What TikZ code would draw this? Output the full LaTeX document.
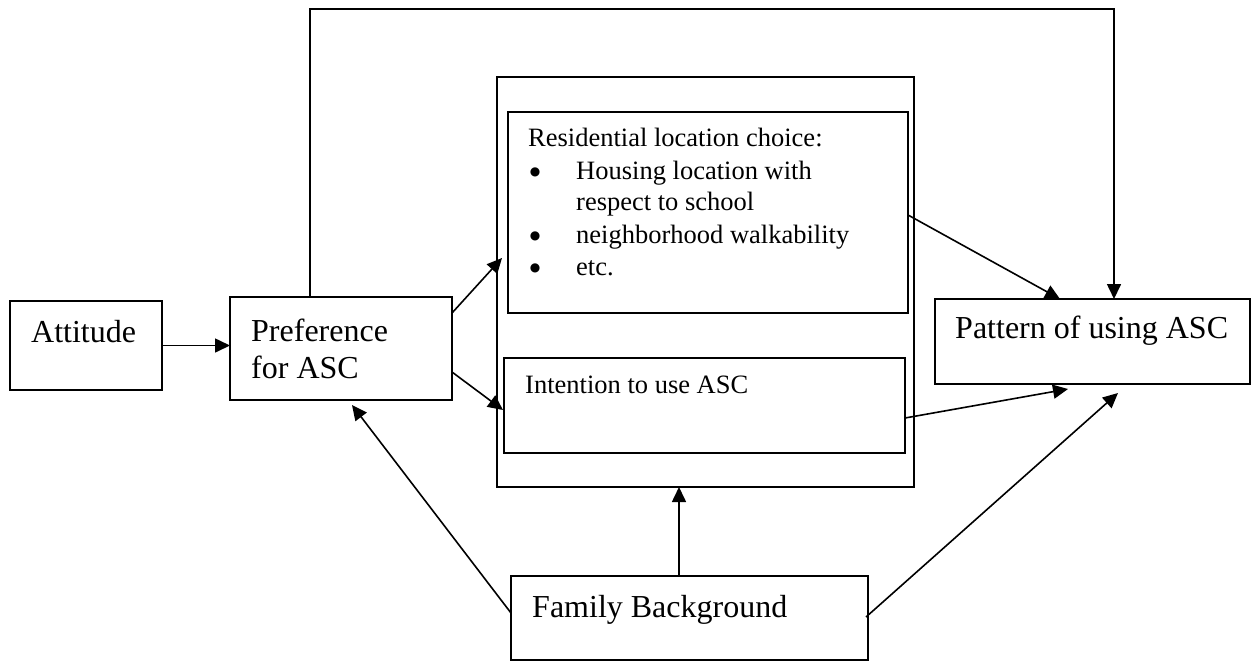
\documentclass[tikz,border=0pt]{standalone}
\usepackage{fontspec}
\setmainfont{Liberation Serif}
\newfontfamily\symfont{DejaVu Sans}
\usetikzlibrary{arrows.meta,calc}
\begin{document}
\begin{tikzpicture}[x=1pt,y=-1pt,
  box/.style={draw,line width=1.6pt,rectangle,inner sep=0pt,outer sep=0pt},
  big/.style={font=\fontsize{32}{37}\selectfont,inner sep=0pt,anchor=base west},
  small/.style={font=\fontsize{26.5}{31}\selectfont,inner sep=0pt,anchor=base west},
  bul/.style={font=\symfont\fontsize{12}{14}\selectfont,inner sep=0pt,anchor=center},
  arr/.style={line width=1.6pt,-{Triangle[length=15pt,width=14pt]}}]
\useasboundingbox (0,0) rectangle (1252,662);
% boxes
\node[box,minimum width=152pt,minimum height=89pt] (att) at (86,345.5) {};
\node[box,minimum width=222pt,minimum height=103pt] (pref) at (341,348.5) {};
\node[box,minimum width=417pt,minimum height=410pt] (cont) at (705.5,282) {};
\node[box,minimum width=400pt,minimum height=201pt] (res) at (708,212.5) {};
\node[box,minimum width=401pt,minimum height=95pt] (int) at (704.5,405.5) {};
\node[box,minimum width=315pt,minimum height=85pt] (pat) at (1092.5,341.5) {};
\node[box,minimum width=357pt,minimum height=84pt] (fam) at (689.5,618) {};
% texts
\node[big] (tatt) at (31,342) {Attitude};
\node[big] (tpref1) at (251,341) {Preference};
\node[big] (tpref2) at (251,378) {for ASC};
\node[big] (tpat) at (955,338) {Pattern of using ASC};
\node[big] (tfam) at (532,617) {Family Background};
\node[small] (tint) at (525,393) {Intention to use ASC};
\node[small] (tres) at (528,146) {Residential location choice:};
\node[bul] (b1) at (535,172.5) {●};
\node[bul] (b2) at (535,236.5) {●};
\node[bul] (b3) at (535,268.5) {●};
\node[small] (l1) at (576,179) {Housing location with};
\node[small] (l2) at (576,210) {respect to school};
\node[small] (l3) at (576,243) {neighborhood walkability};
\node[small] (l4) at (576,275) {etc.};
% connectors
\draw[arr] (att.east) -- (att.east -| pref.west);
\draw[arr] ($(pref.north west)+(80,0)$) -- ++(0,-288) -| ($(pat.north west)+(179,0)$);
\draw[arr] ($(pref.north east)+(0,16)$) -- ($(res.north west)+(-6,146)$);
\draw[arr] ($(pref.north east)+(0,75)$) -- ($(int.north west)+(-1,52)$);
\draw[arr] ($(res.north east)+(0,103)$) -- ($(pat.north west)+(125,0)$);
\draw[arr] ($(int.north east)+(0,60)$) -- ($(pat.south west)+(133,5)$);
\draw[arr] ($(fam.north west)+(168,0)$) -- ($(cont.south west)+(182,0)$);
\draw[arr] ($(fam.north west)+(0,37)$) -- ($(pref.south west)+(122,5)$);
\draw[arr] ($(fam.north east)+(-2,41)$) -- ($(pat.south west)+(183,9)$);
\end{tikzpicture}
\end{document}
